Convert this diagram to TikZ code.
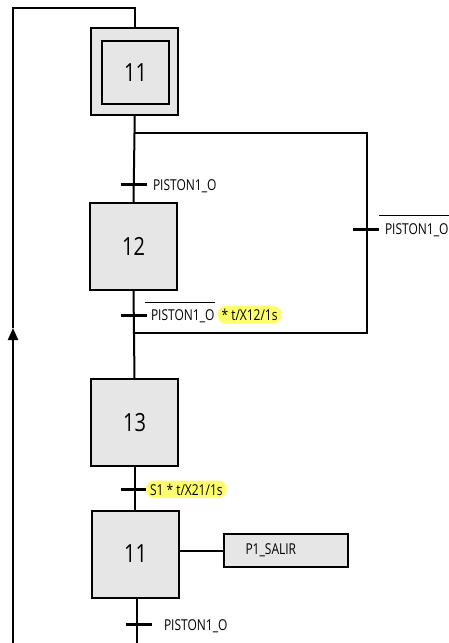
\documentclass[tikz,border=0pt]{standalone}
\usepackage{fontspec}
\setmainfont{Open Sans}[FakeStretch=0.8]
\usetikzlibrary{arrows.meta}
\definecolor{stepgray}{RGB}{230,230,230}
\definecolor{hl}{RGB}{255,255,110}
\newcommand\ovltxt[1]{\vbox{\hrule height 0.8pt\kern 7pt\hbox{\hskip 6pt #1}}}
\begin{document}
\begin{tikzpicture}[x=1pt,y=-1pt,line width=2pt,
  stepbox/.style={draw,fill=stepgray,minimum width=87pt,minimum height=87pt,inner sep=0pt,font=\fontsize{25}{25}\selectfont},
  innerbox/.style={draw,fill=stepgray,minimum width=67pt,minimum height=63pt,inner sep=0pt,font=\fontsize{25}{25}\selectfont},
  tick/.style={fill=black,draw=none,minimum width=26pt,minimum height=3pt,inner sep=0pt},
  lab/.style={anchor=base west,inner sep=2pt,font=\fontsize{15}{15}\selectfont},
  hlab/.style={anchor=base west,fill=hl,rounded corners=8pt,inner xsep=4pt,inner ysep=3pt,font=\fontsize{15}{15}\selectfont},
  actbox/.style={draw,fill=stepgray,text width=80pt,inner xsep=22pt,minimum height=33pt,align=left,font=\fontsize{15}{15}\selectfont}]
\useasboundingbox (0,0) rectangle (449,643);

% steps
\node[stepbox] (s11o) at (134.5,71.5) {};
\node[innerbox] (s11i) at (135.5,72.5) {11};
\node[stepbox] (s12) at (133.5,246.5) {12};
\node[stepbox] (s13) at (134.5,422.5) {13};
\node[stepbox] (s11b) at (135.5,554) {11};
\node[actbox] (a1) at (285.5,550.5) {P1\_SALIR};

% coordinates
\coordinate (b1) at (133.5,133);
\coordinate (b2) at (367,133);
\coordinate (j2) at (367,333);
\coordinate (j1) at (133.5,333);
\coordinate (bot) at (137,643);
\coordinate (lb) at (13,643);
\coordinate (la) at (13,328);
\coordinate (lt) at (13,7.5);
\coordinate (tt) at (135,7.5);

% main connectors
\draw (s11o.south) -- (s11o.south |- b1) -- (s12.north);
\draw (s12.south) -- (s13.north);
\draw (s13.south) -- (s13.south |- s11b.north);
\draw (s11b.south -| bot) -- (bot);
\draw (b1) -- (b2) -- (j2) -- (j1);
\draw (s11b.east |- a1.west) -- (a1.west);
\draw[-{Triangle[length=12pt,width=10pt]}] (lb) -- (la);
\draw (la) -- (lt) -- (tt) -- (tt |- s11o.north);

% transitions
\node[tick] (t1) at (133.5,184.5) {};
\node[tick] (t2) at (133.5,315.5) {};
\node[tick] (tr) at (366,229) {};
\node[tick] (t3) at (133.5,489) {};
\node[tick] (t4) at (138.5,624.5) {};

% labels
\node[lab] (l1) at (150,190.5) {PISTON1\_O};
\node[lab] (l2) at (142,320.5) {\ovltxt{PISTON1\_O}};
\node[hlab] (l2b) at ([xshift=-1pt]l2.base east) {* t/X12/1s};
\node[lab] (lr) at (376,234) {\ovltxt{PISTON1\_O}};
\node[hlab] (l3) at (145,495) {S1 * t/X21/1s};
\node[lab] (l4) at (161,630.5) {PISTON1\_O};
\end{tikzpicture}
\end{document}
